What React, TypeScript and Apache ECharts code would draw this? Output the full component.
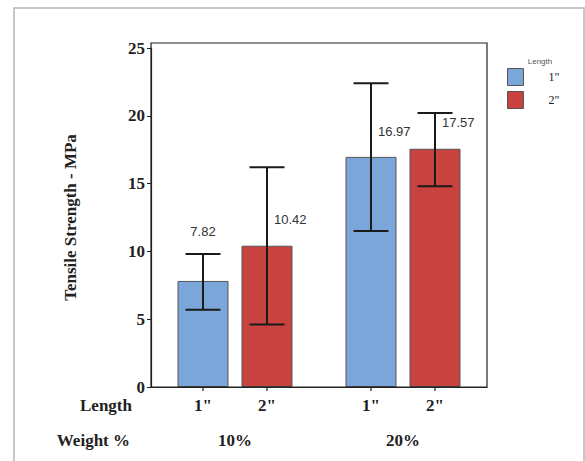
import React, { useEffect, useRef } from "react";
import * as echarts from "echarts";

const categories = ["10%", "20%"];
const lengths = ['1"', '2"'];
const meanShort = [7.82, 16.97];
const meanLong = [10.42, 17.57];
const lowerShort = [5.7, 11.5];
const upperShort = [9.8, 22.4];
const lowerLong = [4.6, 14.8];
const upperLong = [16.2, 20.2];
const yTicks = [0, 5, 10, 15, 20, 25];

const BAR_W = 51;
const GAP_PX = 13;
const SERIF = "'Liberation Serif', 'Times New Roman', serif";
const SANS = "'Liberation Sans', Arial, sans-serif";

export default function App() {
  const ref = useRef<HTMLDivElement>(null);
  useEffect(() => {
    if (!ref.current) return;
    const chart = echarts.init(ref.current, null, { renderer: "svg" });

    const errData: number[][] = [];
    categories.forEach((_, ci) => {
      errData.push([ci, 0, lowerShort[ci], upperShort[ci], meanShort[ci]]);
      errData.push([ci, 1, lowerLong[ci], upperLong[ci], meanLong[ci]]);
    });

    const option: any = {
      animation: false,
      backgroundColor: "#fff",
      grid: {
        left: 151,
        right: 98,
        top: 48,
        bottom: 74,
        show: false,
      },
      legend: {
        data: lengths,
        orient: "vertical",
        left: 507,
        top: 68,
        padding: 0,
        itemWidth: 16,
        itemHeight: 17,
        itemGap: 5,
        icon: "rect",
        itemStyle: { borderColor: "#555", borderWidth: 1 },
        textStyle: { fontFamily: SERIF, fontSize: 12, color: "#222", padding: [0, 0, 0, 20] },
      },
      xAxis: {
        type: "category",
        data: categories,
        axisLine: { lineStyle: { color: "#222", width: 1.2 } },
        axisTick: { show: false },
        axisLabel: {
          margin: 4,
          formatter: (v: string) =>
            `{a|${lengths[0]}}{a|${lengths[1]}}\n{b|${v}}`,
          rich: {
            a: { width: 64, align: "center", fontFamily: SERIF, fontWeight: "bold", fontSize: 17, color: "#222", lineHeight: 28 },
            b: { width: 128, align: "center", fontFamily: SERIF, fontWeight: "bold", fontSize: 17, color: "#222", lineHeight: 42 },
          },
        },
      },
      yAxis: {
        type: "value",
        min: yTicks[0],
        max: yTicks[yTicks.length - 1],
        interval: 5,
        name: "Tensile Strength - MPa",
        nameLocation: "middle",
        nameGap: 72,
        nameTextStyle: { fontFamily: SERIF, fontWeight: "bold", fontSize: 17, color: "#222" },
        axisLine: { show: true, lineStyle: { color: "#222", width: 1.2 } },
        axisTick: { show: true, length: 4, lineStyle: { color: "#222" } },
        splitLine: { show: false },
        axisLabel: { margin: 6, fontFamily: SERIF, fontWeight: "bold", fontSize: 17, color: "#222" },
      },
      graphic: [
        {
          type: "rect",
          shape: { x: 14, y: 8, width: 570, height: 480 },
          style: { fill: "none", stroke: "#b5b5b5", lineWidth: 1.5 },
          silent: true,
        },
        {
          type: "rect",
          shape: { x: 151, y: 43, width: 336, height: 344 },
          style: { fill: "none", stroke: "#222", lineWidth: 1.2 },
          silent: true,
          z: 5,
        },
        {
          type: "text",
          x: 540,
          y: 61,
          style: { text: "Length", font: `8px ${SANS}`, fill: "#555", align: "center", verticalAlign: "middle" },
        },
        {
          type: "text",
          x: 132,
          y: 405,
          style: { text: "Length", font: `bold 17px ${SERIF}`, fill: "#222", align: "right", verticalAlign: "middle" },
        },
        {
          type: "text",
          x: 130,
          y: 440,
          style: { text: "Weight %", font: `bold 17px ${SERIF}`, fill: "#222", align: "right", verticalAlign: "middle" },
        },
      ],
      series: [
        {
          name: lengths[0],
          type: "bar",
          data: meanShort,
          barWidth: BAR_W,
          barGap: `${(GAP_PX / BAR_W) * 100}%`,
          itemStyle: { color: "#7BA6D9", borderColor: "#555", borderWidth: 1 },
        },
        {
          name: lengths[1],
          type: "bar",
          data: meanLong,
          barWidth: BAR_W,
          itemStyle: { color: "#C8423F", borderColor: "#555", borderWidth: 1 },
        },
        {
          type: "custom",
          clip: false,
          z: 10,
          data: errData,
          encode: { x: 0, y: 3 },
          renderItem: (params: any, api: any) => {
            const ci = api.value(0);
            const li = api.value(1);
            const lo = api.value(2);
            const hi = api.value(3);
            const m = api.value(4);
            const base = api.coord([ci, 0]);
            const x = base[0] + (li === 0 ? -1 : 1) * (BAR_W + GAP_PX) / 2;
            const yHi = api.coord([ci, hi])[1];
            const yLo = api.coord([ci, lo])[1];
            const y0 = base[1];
            const cap = 17.5;
            const ls = { stroke: "#1a1a1a", lineWidth: 2 };
            const labelVal = m + 1.9;
            let label: any;
            if (Math.abs(labelVal - hi) < 0.5) {
              label = {
                type: "text",
                x: x,
                y: api.coord([ci, hi + 1.7])[1],
                style: { text: m.toFixed(2), font: `13px ${SANS}`, fill: "#333", align: "center", verticalAlign: "middle" },
              };
            } else {
              label = {
                type: "text",
                x: x + 7,
                y: api.coord([ci, labelVal])[1],
                style: { text: m.toFixed(2), font: `13px ${SANS}`, fill: "#333", align: "left", verticalAlign: "middle" },
              };
            }
            return {
              type: "group",
              children: [
                { type: "line", shape: { x1: x, y1: yHi, x2: x, y2: yLo }, style: ls },
                { type: "line", shape: { x1: x - cap, y1: yHi, x2: x + cap, y2: yHi }, style: ls },
                { type: "line", shape: { x1: x - cap, y1: yLo, x2: x + cap, y2: yLo }, style: ls },
                { type: "line", shape: { x1: x, y1: y0, x2: x, y2: y0 + 4 }, style: { stroke: "#222", lineWidth: 1.2 } },
                label,
              ],
            };
          },
        },
      ],
    };
    chart.setOption(option);
    return () => chart.dispose();
  }, []);
  return (
    <div
      ref={ref}
      style={{ position: "absolute", left: 0, top: 0, width: 585, height: 461 }}
    />
  );
}
